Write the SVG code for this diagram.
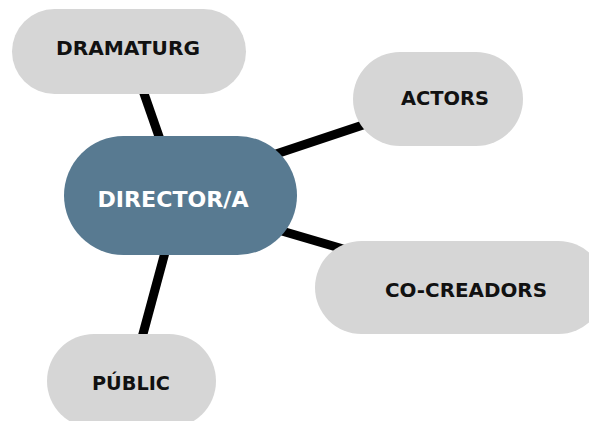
<svg xmlns="http://www.w3.org/2000/svg" width="589" height="421" viewBox="0 0 589 421">
  <style>
    .link { stroke: #000; stroke-width: 9; stroke-linecap: butt; fill: none; }
    .leaf { fill: #d6d6d6; }
    .hub { fill: #587a91; }
    .lbl { font-family: "DejaVu Sans", "Liberation Sans", sans-serif; font-weight: bold; text-anchor: middle; }
    .leaf-t { fill: #111; font-size: 19.5px; }
    .hub-t { fill: #fff; font-size: 22px; }
  </style>
  <rect width="589" height="421" fill="#fff"/>
  <g id="connectors">
    <line class="link" x1="140" y1="82" x2="163" y2="148"/>
    <line class="link" x1="270" y1="156" x2="375" y2="121"/>
    <line class="link" x1="275" y1="229" x2="350" y2="251"/>
    <line class="link" x1="167" y1="245" x2="140" y2="345"/>
  </g>
  <g id="dramaturg">
    <rect class="leaf" x="12" y="9" width="234" height="85" rx="42.5"/>
    <text class="lbl leaf-t" x="128" y="55" textLength="144" lengthAdjust="spacingAndGlyphs">DRAMATURG</text>
  </g>
  <g id="actors">
    <rect class="leaf" x="353" y="52" width="170" height="94" rx="47"/>
    <text class="lbl leaf-t" x="445" y="105" textLength="88" lengthAdjust="spacingAndGlyphs">ACTORS</text>
  </g>
  <g id="director">
    <rect class="hub" x="64" y="136" width="233" height="119" rx="59.5"/>
    <text class="lbl hub-t" x="173" y="207" textLength="151" lengthAdjust="spacingAndGlyphs">DIRECTOR/A</text>
  </g>
  <g id="cocreadors">
    <rect class="leaf" x="315" y="241" width="290" height="93" rx="46.5"/>
    <text class="lbl leaf-t" x="466" y="297" textLength="162" lengthAdjust="spacingAndGlyphs">CO-CREADORS</text>
  </g>
  <g id="public">
    <rect class="leaf" x="47" y="334" width="169" height="94" rx="47"/>
    <text class="lbl leaf-t" x="131" y="390" textLength="78" lengthAdjust="spacingAndGlyphs">PÚBLIC</text>
  </g>
</svg>
